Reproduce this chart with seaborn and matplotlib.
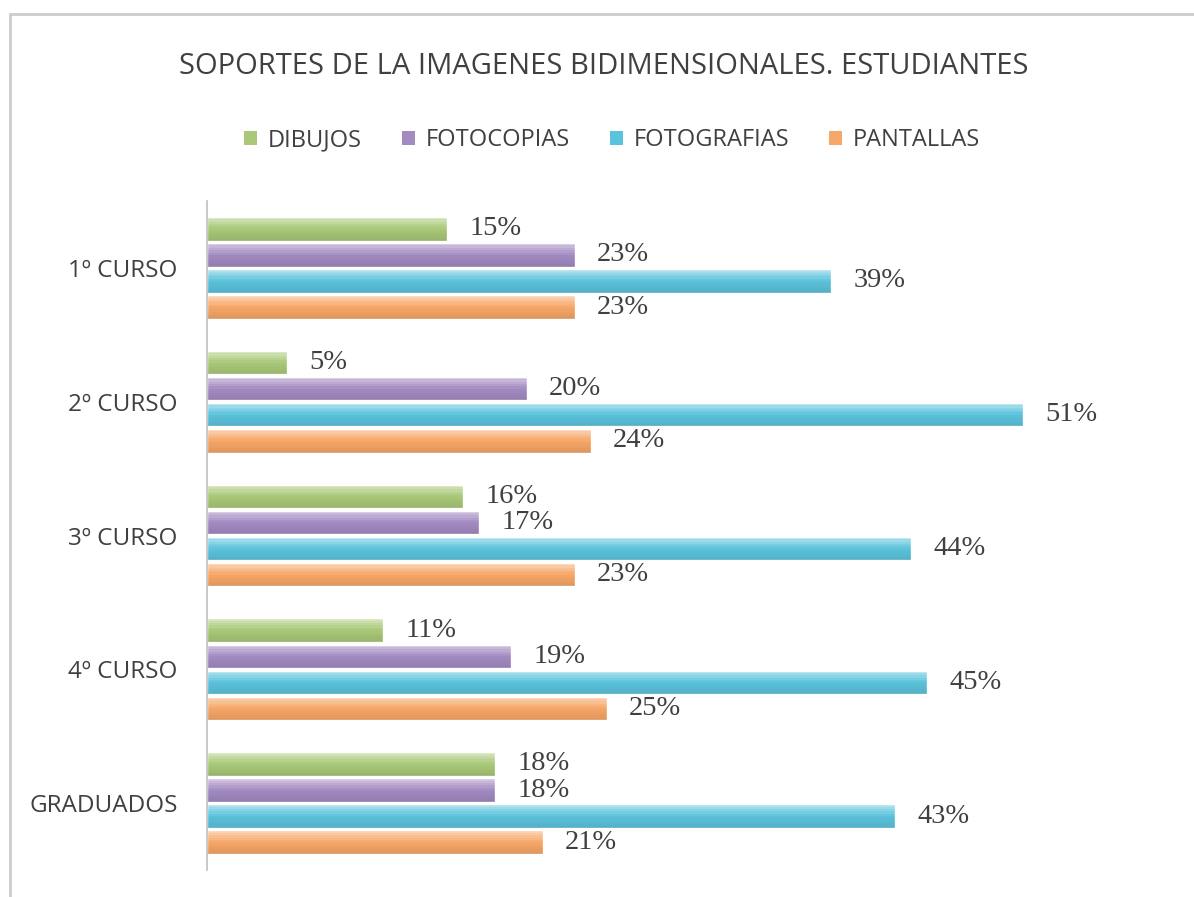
import matplotlib
matplotlib.use("Agg")
import matplotlib.pyplot as plt
import seaborn as sns
import pandas as pd
from matplotlib.patches import Patch, Rectangle
from matplotlib.lines import Line2D

categories = ["1º CURSO", "2º CURSO", "3º CURSO", "4º CURSO", "GRADUADOS"]
series = ["DIBUJOS", "FOTOCOPIAS", "FOTOGRAFIAS", "PANTALLAS"]
dibujos = [15, 5, 16, 11, 18]
fotocopias = [23, 20, 17, 19, 18]
fotografias = [39, 51, 44, 45, 43]
pantallas = [23, 24, 23, 25, 21]
colors = ["#a9c978", "#a38bc2", "#5cc3dc", "#f7a767"]

values = [dibujos, fotocopias, fotografias, pantallas]
rows = []
for s, vals in zip(series, values):
    for c, v in zip(categories, vals):
        rows.append({"curso": c, "serie": s, "valor": v})
df = pd.DataFrame(rows)

sns.set_theme(style="white")
plt.rcParams["font.family"] = ["Open Sans", "DejaVu Sans"]

fig = plt.figure(figsize=(11.94, 8.97), dpi=100)
ax = fig.add_axes([207/1194, 1-870/897, 960/1194, (870-201)/897])

sns.barplot(data=df, y="curso", x="valor", hue="serie", order=categories,
            hue_order=series, palette=colors, orient="h", width=0.78, gap=0.1,
            saturation=1, ax=ax, legend=False)

# soft vertical gradient on each bar (light top, slightly darker bottom)
n = 10
for p in list(ax.patches):
    x0, y0 = p.get_x(), p.get_y()
    w, h = p.get_width(), p.get_height()
    for i in range(n):
        t = (i + 0.5) / n
        if t < 0.5:
            col, a = "white", 0.55 * (1 - 2 * t)
        else:
            col, a = "black", 0.10 * (2 * t - 1)
        ax.add_patch(Rectangle((x0, y0 + i * h / n), w, h / n, facecolor=col,
                               edgecolor="none", alpha=a, linewidth=0))

ax.set_xlim(0, 60)
ax.set_xlabel("")
ax.set_ylabel("")
ax.set_xticks([])
for sp in ["top", "right", "bottom"]:
    ax.spines[sp].set_visible(False)
ax.spines["left"].set_color("#bfbfbf")
ax.spines["left"].set_linewidth(1.2)
ax.tick_params(axis="y", length=0, pad=21, labelsize=17.5, labelcolor="#404040")

for cont in ax.containers:
    ax.bar_label(cont, labels=[f"{int(v)}%" for v in cont.datavalues],
                 padding=16, fontsize=20.5, color="#404040",
                 family=["Liberation Serif", "DejaVu Serif"])

fig.text(604/1194, 1-67/897, "SOPORTES DE LA IMAGENES BIDIMENSIONALES. ESTUDIANTES",
         ha="center", va="center", fontsize=21, color="#404040")

handles = [Patch(facecolor=c, edgecolor="none") for c in colors]
fig.legend(handles, series, loc="center", bbox_to_anchor=(612/1194, 1-140/897),
           ncol=4, frameon=False, fontsize=17, handlelength=0.55, handleheight=0.55,
           handletextpad=0.45, columnspacing=1.7, labelcolor="#404040")

# outer frame lines (top and left)
fig.add_artist(Line2D([10/1194, 1], [1-14/897, 1-14/897], color="#cccccc", lw=2))
fig.add_artist(Line2D([10/1194, 10/1194], [0, 1-14/897], color="#cccccc", lw=2))

fig.savefig("out.png", dpi=100)
